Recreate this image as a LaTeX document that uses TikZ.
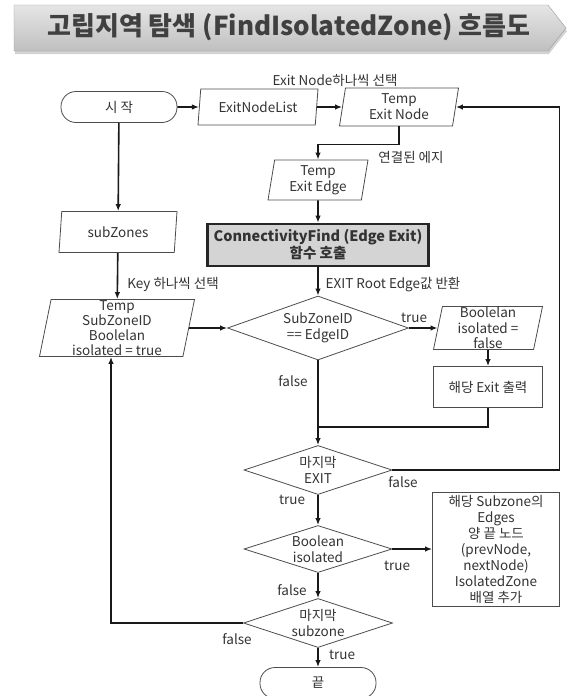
\documentclass[tikz,border=0pt]{standalone}
\usepackage{fontspec}
\setmainfont{Noto Sans CJK KR}
\usetikzlibrary{shapes.geometric,arrows.meta,shadows}

\begin{document}
\begin{tikzpicture}[x=1pt,y=-1pt,
    every node/.style={font=\fontsize{13.5}{16}\selectfont, text=black!80, align=center},
    box/.style={draw=black!70, line width=0.8pt, inner sep=1pt},
    io/.style={box, trapezium, trapezium left angle=78, trapezium right angle=102, trapezium stretches body},
    term/.style={box, rounded corners=15pt, minimum width=116pt, minimum height=31pt},
    cond/.style={box, diamond, aspect=2.8, inner sep=0pt},
    lbl/.style={inner sep=1pt},
    flow/.style={line width=1.6pt, draw=black!90, -{Latex[length=7pt,width=5.5pt]}}]
  \useasboundingbox (0,0) rectangle (576,696);
  \clip (0,0) rectangle (576,696);
  \draw[draw=black!40, top color=black!10, middle color=white, bottom color=black!25,
        drop shadow={shadow xshift=1pt, shadow yshift=-3pt, opacity=0.35}]
    (14,5) -- (548,5) -- (566,28) -- (548,51) -- (14,51) -- cycle;
  \node[font=\fontsize{26}{30}\selectfont\bfseries, text=black!75] (title) at (289,27)
    {고립지역 탐색 (FindIsolatedZone) 흐름도};
  \draw
    (119,107) node[term] (start){시 작}
    (258,107) node[io, minimum width=120pt, minimum height=36pt] (list){ExitNodeList}
    (399,107) node[io, minimum width=119pt, minimum height=38pt] (tnode){Temp\\Exit Node}
    (318,180) node[io, minimum width=100pt, minimum height=40pt] (tedge){Temp\\Exit Edge}
    (318,245) node[box, line width=2.6pt, draw=black!85, fill=black!17, minimum width=221pt,
                   minimum height=42pt, font=\fontsize{14.5}{17}\selectfont\bfseries] (find)
                   {ConnectivityFind (Edge Exit)\\함수 호출}
    (118,232) node[io, minimum width=118pt, minimum height=41pt] (zones){subZones}
    (117,328) node[io, minimum width=155pt, minimum height=57pt, inner sep=0pt,
                   font=\fontsize{13.5}{14.8}\selectfont] (tzone)
                   {Temp\\SubZoneID\\Boolelan\\isolated = true}
    (318,328) node[cond, minimum width=181pt, minimum height=64pt] (cmp){SubZoneID\\== EdgeID}
    (488,328) node[io, minimum width=109pt, minimum height=43pt, inner sep=0pt,
                   font=\fontsize{13.5}{15.5}\selectfont] (bfalse){Boolelan\\isolated =\\false}
    (488,387) node[box, minimum width=109pt, minimum height=41pt] (out){해당 Exit 출력}
    (318,470) node[cond, minimum width=148pt, minimum height=49pt] (last){마지막\\EXIT}
    (318,549) node[cond, minimum width=148pt, minimum height=47pt] (iso){Boolean\\isolated}
    (496,549) node[box, minimum width=127pt, minimum height=114pt, inner sep=0pt] (add)
                   {해당 Subzone의\\Edges\\양 끝 노드\\(prevNode,\\nextNode)\\IsolatedZone\\배열 추가}
    (318,623) node[cond, minimum width=149pt, minimum height=49pt] (lastz){마지막\\subzone}
    (318,683) node[term] (stop){끝};
  \draw
    (335,80) node[lbl] (l1){Exit Node하나씩 선택}
    (411,157) node[lbl] (l2){연결된 에지}
    (173,284) node[lbl] (l3){Key 하나씩 선택}
    (393,285) node[lbl] (l4){EXIT Root Edge값 반환}
    (414,318) node[lbl] (l5){true}
    (293,381) node[lbl] (l6){false}
    (403,482) node[lbl] (l7){false}
    (292,500) node[lbl] (l8){true}
    (397,566) node[lbl] (l9){true}
    (292,590) node[lbl] (l10){false}
    (237,639) node[lbl] (l11){false}
    (342,655) node[lbl] (l12){true};
  \coordinate (join) at (318,427);
  \begin{scope}[flow]
    \draw (start) to (list);
    \draw (list) to (tnode);
    \draw (tnode.south) -- ++(0,18) -| (tedge.north);
    \draw (tedge) to (find);
    \draw (find) to (cmp);
    \draw (start) to (zones);
    \draw (zones) to (tzone);
    \draw (tzone) to (cmp);
    \draw (cmp) to (bfalse);
    \draw (bfalse) to (out);
    \draw[-] (out.south) |- (join);
    \draw (cmp) to (last);
    \draw (last.east) -- ++(167,0) |- (tnode.east);
    \draw (last) to (iso);
    \draw (iso) to (add);
    \draw (iso) to (lastz);
    \draw (lastz.west) -| ([xshift=-6pt]tzone.south);
    \draw (lastz) to (stop);
  \end{scope}
\end{tikzpicture}
\end{document}
